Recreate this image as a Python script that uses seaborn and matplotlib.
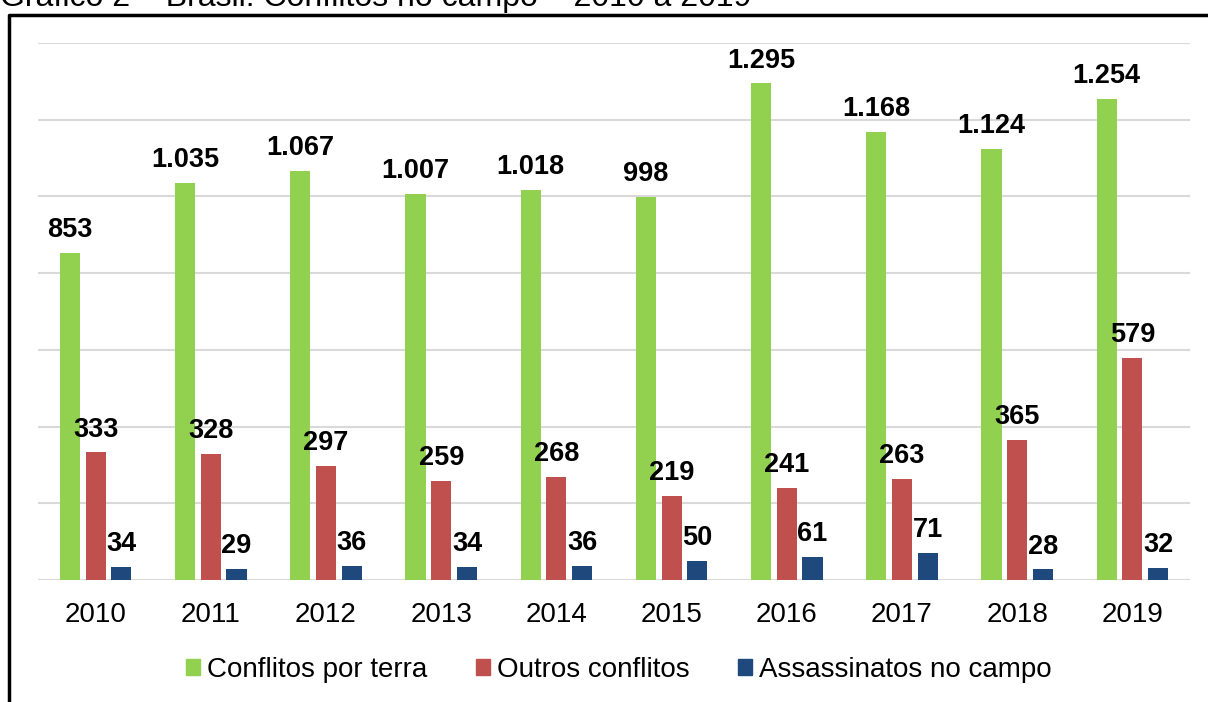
import matplotlib.pyplot as plt
import matplotlib.lines as mlines
import matplotlib.patches as mpatches
import seaborn as sns
import pandas as pd

# dados
anos = ['2010', '2011', '2012', '2013', '2014', '2015', '2016', '2017', '2018', '2019']
conflitos_terra = [853, 1035, 1067, 1007, 1018, 998, 1295, 1168, 1124, 1254]
outros_conflitos = [333, 328, 297, 259, 268, 219, 241, 263, 365, 579]
assassinatos = [34, 29, 36, 34, 36, 50, 61, 71, 28, 32]
series = ['Conflitos por terra', 'Outros conflitos', 'Assassinatos no campo']
cores = ['#92D050', '#C0504D', '#1F497D']

df = pd.DataFrame({
    'ano': anos * 3,
    'valor': conflitos_terra + outros_conflitos + assassinatos,
    'serie': [series[0]] * 10 + [series[1]] * 10 + [series[2]] * 10,
})

sns.set_style('white')
plt.rcParams['font.family'] = ['Liberation Sans', 'DejaVu Sans']
plt.rcParams['text.color'] = 'black'
plt.rcParams['xtick.color'] = 'black'

fig = plt.figure(figsize=(12.08, 7.02), dpi=100)
ax = fig.add_axes([38 / 1208, 1 - 580 / 702, (1190 - 38) / 1208, (580 - 43) / 702])

sns.barplot(data=df, x='ano', y='valor', hue='serie', palette=cores, saturation=1,
            width=0.67, gap=0.22, linewidth=0, legend=False, ax=ax)

# rótulos com separador de milhar "."
for cont in ax.containers:
    rot = [f'{int(b.get_height()):,}'.replace(',', '.') for b in cont]
    ax.bar_label(cont, labels=rot, padding=7, fontsize=19.5, fontweight='bold', color='black')

ax.set_ylim(0, 1400)
ax.set_xlim(-0.5, 9.5)
ax.set_yticks(range(0, 1401, 200))
ax.set_yticklabels([])
ax.yaxis.grid(True, color='#D9D9D9', linewidth=1.5)
ax.set_axisbelow(True)
ax.tick_params(axis='x', length=0, pad=16, labelsize=20, labelcolor='black')
ax.tick_params(axis='y', length=0)
ax.set_xlabel('')
ax.set_ylabel('')
for s in ax.spines.values():
    s.set_visible(False)

# legenda
handles = [mpatches.Patch(color=c, label=s) for c, s in zip(cores, series)]
fig.legend(handles=handles, loc='center', bbox_to_anchor=(0.5124, 0.046), ncol=3,
           frameon=False, fontsize=20, handlelength=0.5, handleheight=0.5,
           handletextpad=0.25, columnspacing=1.75)

# moldura e título (cortado no topo, como no original)
fig.add_artist(mlines.Line2D([9 / 1208, 9 / 1208, 1.0], [0.0, 1 - 15 / 702, 1 - 15 / 702],
                             transform=fig.transFigure, color='black', linewidth=2.5))
fig.text(0.0, 1 - 6 / 702, 'Gráfico 2 – Brasil: Conflitos no campo – 2010 a 2019',
         fontsize=23, va='baseline', ha='left')

fig.savefig('out.png', dpi=100)
